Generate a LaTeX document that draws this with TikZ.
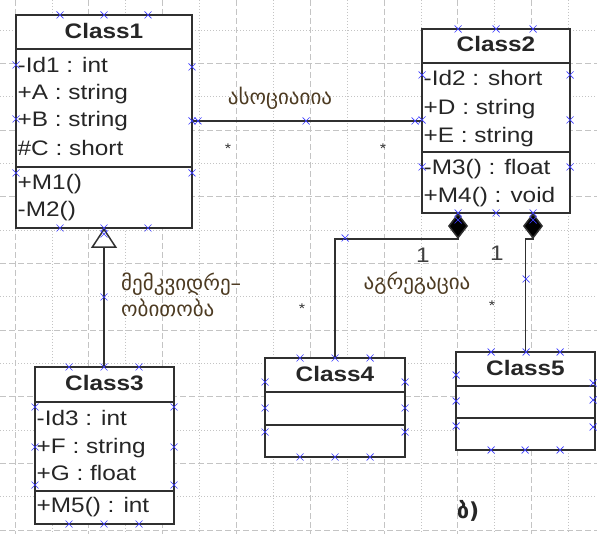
\documentclass[tikz,border=0pt]{standalone}
\usepackage{fontspec}
\setmainfont[FakeStretch=1.16]{Liberation Sans}
\newfontfamily\geofont{DejaVu Sans}
\usetikzlibrary{arrows.meta}
\definecolor{gridgray}{HTML}{C4C4C4}
\definecolor{boxgray}{HTML}{303030}
\definecolor{handleblue}{HTML}{3C3CFF}
\definecolor{geoink}{HTML}{4D3B22}

\begin{document}
\begin{tikzpicture}[
    x=1pt, y=-1pt,
    classbox/.style={draw=boxgray, line width=1.5pt, fill=white, inner sep=0pt, outer sep=0pt},
    title/.style={font=\fontsize{21}{21}\selectfont\bfseries, text=black!85, inner sep=0pt, text height=15pt, text depth=0pt},
    member/.style={anchor=west, font=\fontsize{21}{21}\selectfont, text=black!85, inner sep=0pt, text height=15pt, text depth=0pt},
    divider/.style={boxgray, line width=1.5pt},
    link/.style={boxgray, line width=1.5pt},
    geolabel/.style={font=\geofont\fontsize{21}{26}\selectfont, text=geoink, inner sep=0pt},
    mult/.style={font=\fontsize{21}{21}\selectfont, text=black!75, inner sep=0pt},
    star/.style={font=\fontsize{14}{14}\selectfont, text=black!80, inner sep=0pt},
    gridline/.style={gridgray, line width=0.7pt},
    handle/.style={handleblue, line width=0.7pt}
]
\useasboundingbox (0,0) rectangle (597,534);

% Grid
\foreach \gx in {15,88.8,...,540}
  \draw[gridline, dash pattern=on 6pt off 3pt] (\gx,0) -- (\gx,534);
\foreach \gx in {51.9,125.7,...,575}
  \draw[gridline, dash pattern=on 1pt off 2pt] (\gx,0) -- (\gx,534);
\foreach \gy in {63.33,130,...,535}
  \draw[gridline, dash pattern=on 6pt off 3pt] (0,\gy) -- (597,\gy);
\foreach \gy in {30,96.67,...,505}
  \draw[gridline, dash pattern=on 1pt off 2pt] (0,\gy) -- (597,\gy);

% Classes
\node[classbox, minimum width=176pt, minimum height=213pt] (class1) at (104,121.5) {};
\node[classbox, minimum width=148pt, minimum height=184pt] (class2) at (496,121) {};
\node[classbox, minimum width=139pt, minimum height=157pt] (class3) at (104.5,445.5) {};
\node[classbox, minimum width=140pt, minimum height=99pt] (class4) at (335,407.5) {};
\node[classbox, minimum width=139pt, minimum height=98pt] (class5) at (525.5,401) {};

\foreach \c/\d in {class1/34, class1/152, class2/34, class2/123, class3/35,
                   class3/124, class4/34, class4/67, class5/34, class5/66}
  \draw[divider] ([yshift=-\d pt]\c.north west) -- ([yshift=-\d pt]\c.north east);

% Titles
\node[title] (class1t) at (104,31) {Class1};
\node[title] (class2t) at (496,44) {Class2};
\node[title] (class3t) at (104.5,383) {Class3};
\node[title] (class4t) at (335,374) {Class4};
\node[title] (class5t) at (525.5,368) {Class5};

% Members
\node[member] (c1a1) at (17.5,65) {-Id1 : int};
\node[member] (c1a2) at (17.5,92) {+A : string};
\node[member] (c1a3) at (17.5,119) {+B : string};
\node[member] (c1a4) at (17.5,148) {\#C : short};
\node[member] (c1m1) at (17.5,182) {+M1()};
\node[member] (c1m2) at (17.5,209) {-M2()};
\node[member] (c2a1) at (423.5,78) {-Id2 : short};
\node[member] (c2a2) at (423.5,107) {+D : string};
\node[member] (c2a3) at (423.5,135) {+E : string};
\node[member] (c2m1) at (423.5,167) {-M3() : float};
\node[member] (c2m2) at (423.5,195) {+M4() : void};
\node[member] (c3a1) at (36.5,418) {-Id3 : int};
\node[member] (c3a2) at (36.5,446) {+F : string};
\node[member] (c3a3) at (36.5,473) {+G : float};
\node[member] (c3m1) at (36.5,505) {+M5() : int};

% Association
\draw[link] (class1.east |- class2) -- (class2.west);
\node[geolabel] (assoc) at (280,98) {ასოციაიია};
\node[star] (star1) at (228,149) {*};
\node[star] (star2) at (383,149) {*};

% Inheritance
\draw[link, -{Triangle[open, length=20pt, width=26pt, fill=white]}]
  (class1.south |- class3.north) -- (class1.south);
\node[geolabel, anchor=west, align=left] (inher) at (121,295) {მემკვიდრე–\\ობითობა};

% Aggregations
\draw[link, {Diamond[length=26pt, width=20pt, fill=black]}-]
  ([xshift=-38pt]class2.south) -- ++(0,26) -| (class4.north);
\draw[link, {Diamond[length=26pt, width=20pt, fill=black]}-]
  ([xshift=37pt]class2.south) -- ++(0,26) -| (class5.north);
\node[geolabel] (aggr) at (417,283) {აგრეგაცია};
\node[mult] (one1) at (423,255) {1};
\node[mult] (one2) at (497,253) {1};
\node[star] (star3) at (302,309) {*};
\node[star] (star4) at (492,306) {*};

\node[font=\geofont\bfseries\fontsize{22}{22}\selectfont, text=black!85, inner sep=0pt] (figb) at (468,511) {ბ)};

% Handles
\foreach \hx/\hy in {60/15, 104/15, 148/15, 60/228, 104/228, 148/228,
    16/65, 16/119, 16/173, 192/67, 192/121, 192/173, 198/121, 306/121, 415/121,
    458/29, 496/29, 533/29, 458/213, 496/213, 533/213,
    422/75, 422/120, 422/167, 570/75, 570/120, 570/167,
    104/234, 104/297, 104/367,
    69/367, 139/367, 69/524, 104/524, 139/524,
    35/407, 35/447, 35/485, 174/407, 174/447, 174/485,
    458/220, 345/238, 335/358,
    300/358, 370/358, 300/457, 335/457, 370/457,
    265/382, 265/408, 265/432, 405/382, 405/408, 405/432,
    533/220, 526/279, 526/352,
    491/352, 560/352, 491/450, 525/450, 560/450,
    456/375, 456/401, 456/426, 593/383, 593/400, 593/427}
  \draw[handle] (\hx,\hy) +(-3.5,-3.5) -- +(3.5,3.5) +(-3.5,3.5) -- +(3.5,-3.5);

\end{tikzpicture}
\end{document}
